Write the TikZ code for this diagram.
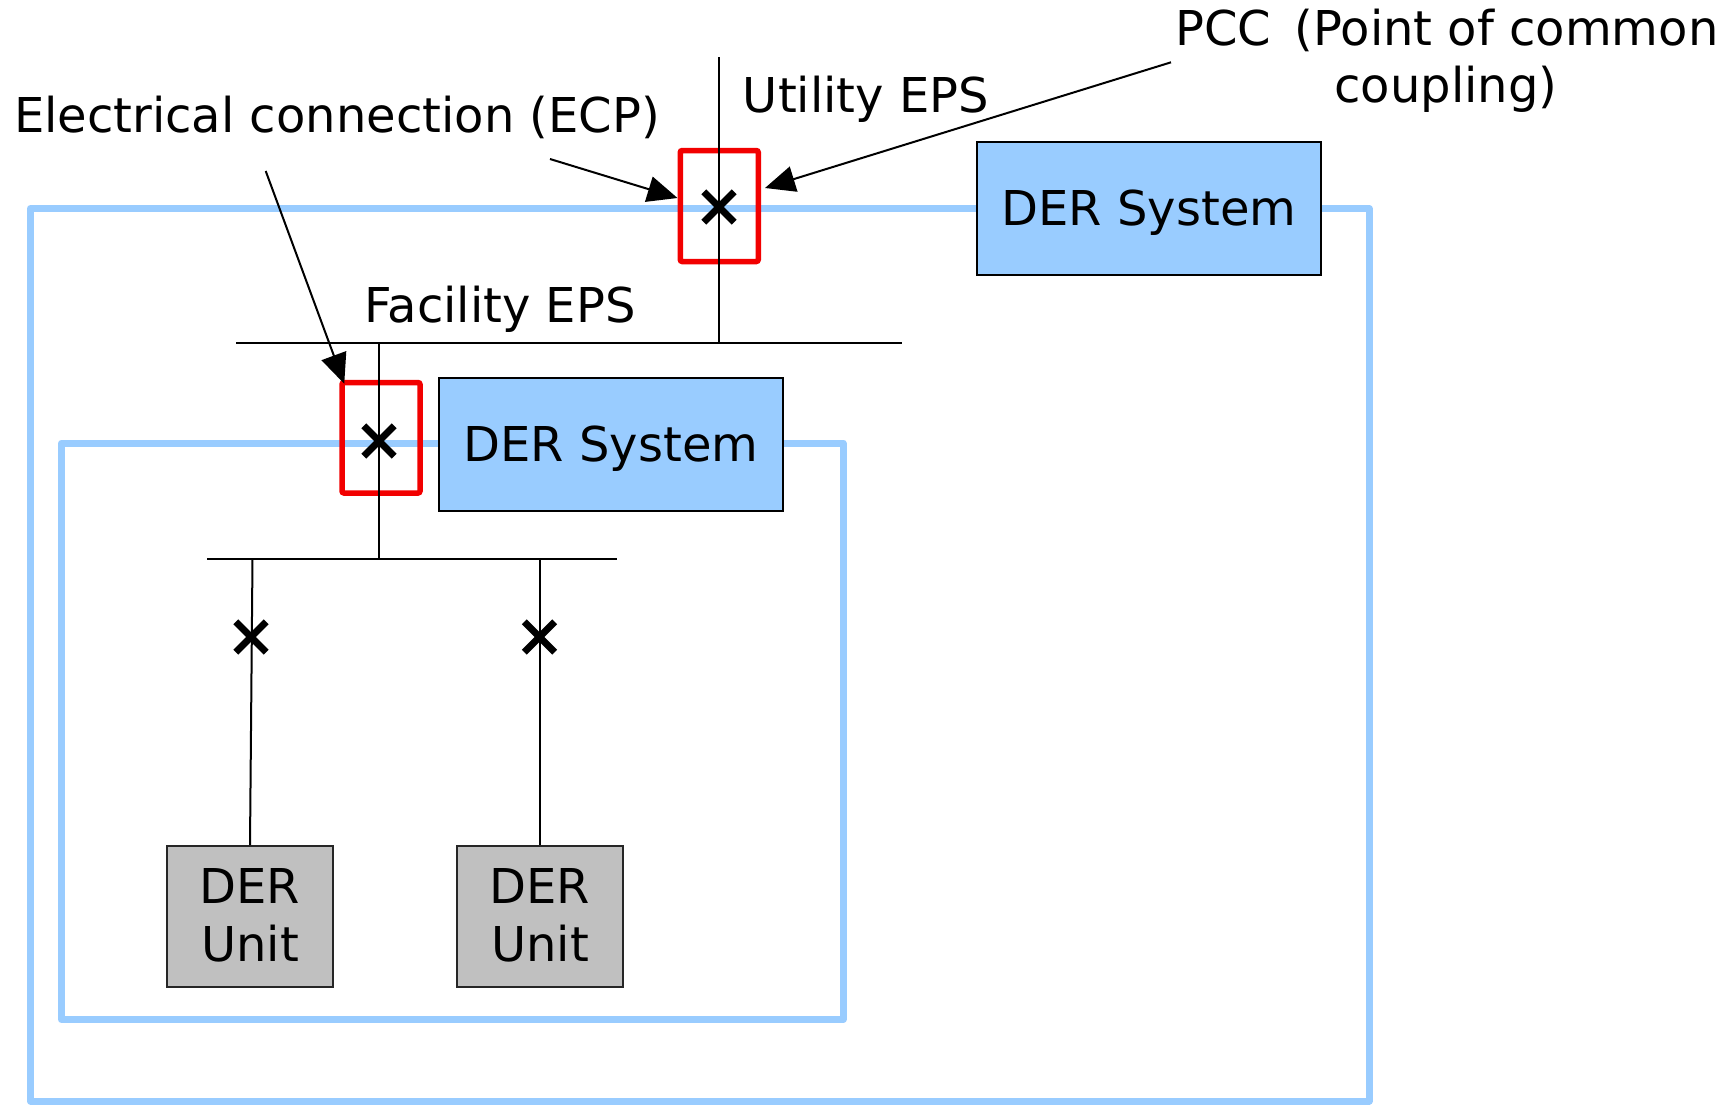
\documentclass[tikz,border=0pt]{standalone}
\usepackage{fontspec}
\setmainfont{DejaVu Sans}
\usetikzlibrary{arrows.meta,shapes.misc}
\definecolor{derblue}{HTML}{99CCFF}
\definecolor{dergray}{HTML}{C0C0C0}
\definecolor{pccred}{HTML}{F20000}
\begin{document}
\begin{tikzpicture}[x=1pt,y=-1pt,
  every node/.style={font=\fontsize{48}{58}\selectfont, inner sep=0pt},
  zone/.style={draw=derblue, line width=7pt, line join=round},
  wire/.style={draw=black, line width=2pt},
  sysbox/.style={draw=black, line width=2pt, fill=derblue, minimum width=344pt, minimum height=133pt, text height=35pt, text depth=0pt},
  unitbox/.style={draw=black!85, line width=2pt, fill=dergray, minimum width=166pt, minimum height=141pt},
  redbox/.style={draw=pccred, line width=5.5pt, rounded corners=2pt, minimum width=78pt, minimum height=111pt},
  brk/.style={minimum size=30pt},
  xline/.style={draw=black, line width=7pt},
  arr/.style={draw=black, line width=2pt, -{Triangle[length=30pt,width=26pt]}},
  lbl/.style={anchor=base}]
\useasboundingbox (0,0) rectangle (1733,1104);
\fill[white] (0,0) rectangle (1733,1104);
% zones
\draw[zone] (30.5,208.5) rectangle (1369,1101);
\draw[zone] (61.5,443) rectangle (843,1019.5);
% red boxes
\node[redbox] (pccbox) at (719.25,206) {};
\node[redbox, minimum height=110.5pt] (ecpbox) at (381,437.75) {};
% wiring coordinates
\coordinate (utop) at (719,57);
\coordinate (fbusL) at (236,342.5);
\coordinate (fbusR) at (902,342.5);
\coordinate (fj1) at (719,342.5);
\coordinate (fj2) at (379,342.5);
\coordinate (lbusL) at (207,559);
\coordinate (lbusR) at (617,559);
\coordinate (lj0) at (379,559);
\coordinate (lj1) at (252.5,559);
\coordinate (lj2) at (540,559);
\draw[wire] (utop) -- (fj1);
\draw[wire] (fbusL) -- (fbusR);
\draw[wire] (fj2) -- (lj0);
\draw[wire] (lbusL) -- (lbusR);
% units
\node[unitbox] (unit1) at (250,916.5) {};
\node[unitbox] (unit2) at (540,916.5) {};
\draw[wire] (lj1) -- (unit1.north);
\draw[wire] (lj2) -- (unit2.north);
% systems
\node[sysbox] (sys1) at (1149,208.4) {DER System};
\node[sysbox] (sys2) at (611,444) {DER System};
% breakers
\node[brk] (b0) at (719,207) {};
\node[brk] (b1) at (379,441) {};
\node[brk] (b2) at (251,637) {};
\node[brk] (b3) at (539.5,637) {};
\foreach \b in {b0,b1,b2,b3}{
  \draw[xline] (\b.north west) -- (\b.south east);
  \draw[xline] (\b.north east) -- (\b.south west);
}
% labels
\node[lbl] (ecplbl) at (337,132) {Electrical connection (ECP)};
\node[lbl] (utillbl) at (866,112) {Utility EPS};
\node[lbl] (pcc1) at (1447,45) {PCC \hspace{8pt}(Point of common};
\node[lbl] (pcc2) at (1446,102) {coupling)};
\node[lbl] (faclbl) at (500,322) {Facility EPS};
\node[lbl] (u1a) at (250,903) {DER};
\node[lbl] (u1b) at (250,961) {Unit};
\node[lbl] (u2a) at (540,903) {DER};
\node[lbl] (u2b) at (540,961) {Unit};
% arrows
\coordinate (e1s) at (550,159);
\coordinate (e2s) at (265.7,171);
\coordinate (ps) at (1171,62.3);
\draw[arr] (e1s) -- ([yshift=8pt]pccbox.west);
\draw[arr] (ps) -- ([xshift=4pt,yshift=18pt]pccbox.east);
\draw[arr] (e2s) -- ([xshift=5pt,yshift=-4pt]ecpbox.north west);
\end{tikzpicture}
\end{document}
